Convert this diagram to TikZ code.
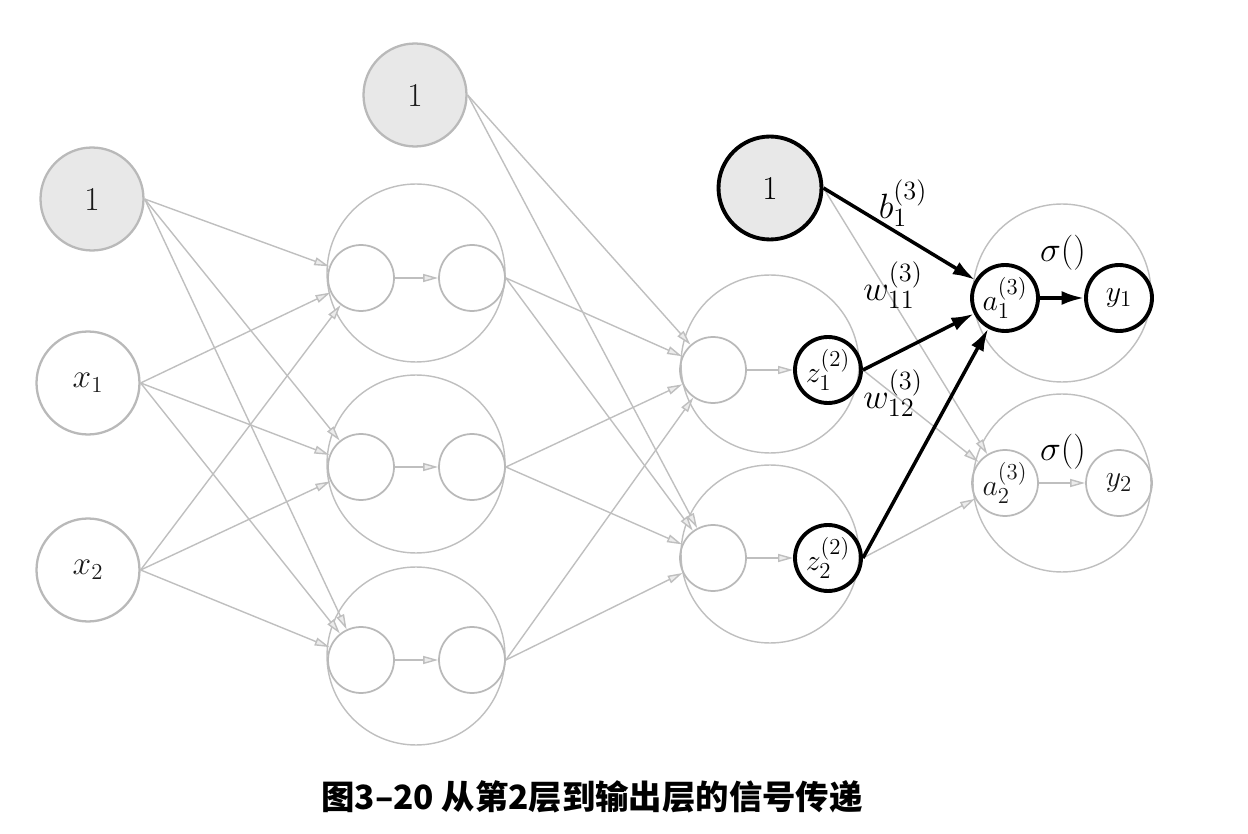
\documentclass[tikz,border=0pt]{standalone}
\usepackage{fix-cm}
\usepackage{fontspec}
\newfontfamily\cjk{Noto Sans CJK SC}
\usetikzlibrary{arrows.meta}
\DeclareMathSizes{20}{20}{15}{11}
\DeclareMathSizes{17}{17}{13}{10}
\DeclareMathSizes{19}{19}{13}{9}

\begin{document}
\begin{tikzpicture}[
    x=0.02cm, y=-0.02cm,
    neuron/.style={circle, draw=gray!55, line width=1.3pt, minimum size=2.06cm, inner sep=0pt, text=black!90, font=\fontsize{19}{22}\selectfont},
    biasnode/.style={neuron, fill=gray!18},
    layerbox/.style={circle, draw=gray!50, line width=0.8pt, minimum size=3.56cm, inner sep=0pt},
    subcell/.style={circle, draw=gray!55, line width=1pt, minimum size=1.32cm, inner sep=0pt, text=black!90, font=\fontsize{17}{19}\selectfont},
    hot/.style={draw=black, line width=2.2pt, text=black},
    arr/.style={-{Triangle[length=3mm, width=1.6mm, fill=gray!15]}, draw=gray!50, line width=0.8pt},
    boldarr/.style={-{Latex[length=4.5mm, width=2.8mm]}, draw=black, line width=2pt},
    wlabel/.style={font=\fontsize{20}{22}\selectfont, inner sep=1pt},
]
\useasboundingbox (0,0) rectangle (1248,834);

% input layer
\node[biasnode] (one0) at (92,199) {1};
\node[neuron] (x1) at (88,383) {$x_1$};
\node[neuron] (x2) at (88,570) {$x_2$};

% first hidden layer
\node[biasnode] (one1) at (415,95) {1};
\node[layerbox] (h1) at (416,273) {};
\node[layerbox] (h2) at (416,464) {};
\node[layerbox] (h3) at (416,656) {};
\node[subcell] (sa1) at (361,278) {};
\node[subcell] (sz1) at (472,278) {};
\node[subcell] (sa2) at (361,467) {};
\node[subcell] (sz2) at (472,467) {};
\node[subcell] (sa3) at (361,660) {};
\node[subcell] (sz3) at (472,660) {};

% second hidden layer
\node[biasnode, hot] (one2) at (770,188) {1};
\node[layerbox] (t1) at (770,364) {};
\node[layerbox] (t2) at (770,554) {};
\node[subcell] (ta1) at (713,370) {};
\node[subcell, hot] (tz1) at (828,370) {$z^{(2)}_1$};
\node[subcell] (ta2) at (713,558) {};
\node[subcell, hot] (tz2) at (828,558) {$z^{(2)}_2$};

% output layer
\node[layerbox] (o1) at (1062,293) {};
\node[layerbox] (o2) at (1062,483) {};
\node[subcell, hot] (oa1) at (1005,298) {$a^{(3)}_1$};
\node[subcell, hot] (oy1) at (1119,298) {$y_1$};
\node[subcell] (oa2) at (1005,483) {$a^{(3)}_2$};
\node[subcell] (oy2) at (1119,483) {$y_2$};

% input -> first hidden
\draw[arr] (one0.east) -- (sa1);
\draw[arr] (one0.east) -- (sa2);
\draw[arr] (one0.east) -- (sa3);
\draw[arr] (x1.east) -- (sa1);
\draw[arr] (x1.east) -- (sa2);
\draw[arr] (x1.east) -- (sa3);
\draw[arr] (x2.east) -- (sa1);
\draw[arr] (x2.east) -- (sa2);
\draw[arr] (x2.east) -- (sa3);
\draw[arr] (sa1) -- (sz1);
\draw[arr] (sa2) -- (sz2);
\draw[arr] (sa3) -- (sz3);

% first hidden -> second hidden
\draw[arr] (one1.east) -- (ta1);
\draw[arr] (one1.east) -- (ta2);
\draw[arr] (sz1.east) -- (ta1);
\draw[arr] (sz1.east) -- (ta2);
\draw[arr] (sz2.east) -- (ta1);
\draw[arr] (sz2.east) -- (ta2);
\draw[arr] (sz3.east) -- (ta1);
\draw[arr] (sz3.east) -- (ta2);
\draw[arr] (ta1) -- (tz1);
\draw[arr] (ta2) -- (tz2);

% second hidden -> output
\draw[arr] (one2.east) -- (oa2);
\draw[arr] (tz1.east) -- (oa2);
\draw[arr] (tz2.east) -- (oa2);
\draw[boldarr] (one2.east) -- (oa1);
\draw[boldarr] (tz1.east) -- (oa1);
\draw[boldarr] (tz2.east) -- (oa1);
\draw[boldarr] (oa1) -- (oy1);
\draw[arr] (oa2) -- (oy2);

% weights and activations
\node[wlabel] (b1) at (903,203) {$b^{(3)}_1$};
\node[wlabel] (w11) at (893,285) {$w^{(3)}_{11}$};
\node[wlabel] (w12) at (893,393) {$w^{(3)}_{12}$};
\node[wlabel] (s1) at (1063,253) {$\sigma()$};
\node[wlabel] (s2) at (1063,452) {$\sigma()$};

\node[font=\cjk\bfseries\fontsize{19}{22}\selectfont] (cap) at (592,797) {图3–20 从第2层到输出层的信号传递};

\end{tikzpicture}
\end{document}
